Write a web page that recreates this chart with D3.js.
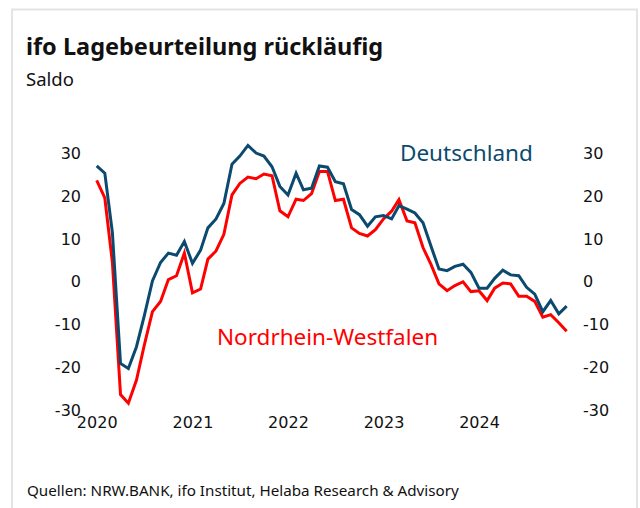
<!DOCTYPE html>
<html>
<head>
<meta charset="utf-8">
<script src="https://d3js.org/d3.v7.min.js"></script>
<style>
    body { margin: 0; background: #fff; }
    .axis text { font-family: 'DejaVu Sans', sans-serif; font-size: 16px; fill: #111; }
    .txt { font-family: 'Noto Sans', sans-serif; fill: #111; }
</style>
</head>
<body>
<script>
// monthly values Jan 2020 .. Dec 2024
var startYear = 2020;
var deutschland = [
    27.1, 25.4, 11.5, -19.1, -20.3, -15.2, -7.9, 0.2, 4.5, 6.7, 6.2, 9.4,
    4.3, 7.4, 12.6, 14.7, 18.3, 27.5, 29.4, 31.9, 30.1, 29.4, 26.9, 22.3,
    20.3, 25.4, 21.5, 21.9, 27.1, 26.8, 23.4, 22.9, 16.9, 15.7, 13.0, 15.2,
    15.5, 14.7, 17.8, 17.0, 16.1, 13.8, 8.4, 3.0, 2.6, 3.6, 4.1, 2.2,
    -1.5, -1.5, 0.8, 2.7, 1.6, 1.4, -1.3, -2.9, -7.0, -4.4, -7.5, -5.7
];
var nrw = [
    23.7, 19.6, 4.5, -26.4, -28.4, -23.0, -14.8, -7.0, -4.6, 0.5, 1.4, 6.7,
    -2.6, -1.7, 5.3, 7.2, 11.1, 20.3, 23.0, 24.5, 24.1, 25.2, 24.8, 16.6,
    15.2, 19.3, 19.0, 20.6, 25.8, 25.8, 19.0, 19.3, 12.6, 11.3, 10.7, 12.2,
    14.7, 16.5, 19.2, 14.2, 13.8, 8.0, 4.1, -0.5, -2.1, -0.9, 0.0, -2.3,
    -2.1, -4.4, -1.5, -0.3, -0.5, -3.4, -3.4, -4.6, -8.3, -7.7, -9.6, -11.6
];
var yearTicks = [2020, 2021, 2022, 2023, 2024];
var valueTicks = [30, 20, 10, 0, -10, -20, -30];

var width = 640, height = 508;
var svg = d3.select("body").append("svg")
    .attr("width", width)
    .attr("height", height);

// light frame around the whole chart
svg.append("rect")
    .attr("x", 12).attr("y", 9.5)
    .attr("width", 625).attr("height", 520)
    .attr("fill", "none")
    .attr("stroke", "#e4e4e4")
    .attr("stroke-width", 2);

svg.append("text").attr("class", "txt")
    .attr("x", 26).attr("y", 55)
    .attr("font-size", 23.5).attr("font-weight", "bold")
    .text("ifo Lagebeurteilung rückläufig");

svg.append("text").attr("class", "txt")
    .attr("x", 26).attr("y", 86)
    .attr("font-size", 18.5)
    .text("Saldo");

svg.append("text").attr("class", "txt")
    .attr("x", 27).attr("y", 496)
    .attr("font-size", 15.2)
    .text("Quellen: NRW.BANK, ifo Institut, Helaba Research & Advisory");

var dates = deutschland.map(function(d, i) { return new Date(startYear, i, 1); });

var x = d3.scaleTime()
    .domain([new Date(2020, 0, 1), new Date(2024, 0, 1)])
    .range([96.7, 479]);

var y = d3.scaleLinear()
    .domain([-30, 30])
    .range([410, 153.5]);

var plain = function(d) { return String(d); };

// left axis
svg.append("g")
    .attr("class", "axis")
    .attr("transform", "translate(81,0)")
    .call(d3.axisLeft(y).tickValues(valueTicks).tickFormat(plain).tickSize(0).tickPadding(0))
    .call(function(g) { g.select(".domain").remove(); });

// right axis
svg.append("g")
    .attr("class", "axis")
    .attr("transform", "translate(583,0)")
    .call(d3.axisRight(y).tickValues(valueTicks).tickFormat(plain).tickSize(0).tickPadding(0))
    .call(function(g) { g.select(".domain").remove(); });

// year labels
svg.append("g")
    .attr("class", "axis")
    .attr("transform", "translate(0,416.5)")
    .call(d3.axisBottom(x)
        .tickValues(yearTicks.map(function(yr) { return new Date(yr, 0, 1); }))
        .tickFormat(d3.timeFormat("%Y"))
        .tickSize(0).tickPadding(0))
    .call(function(g) { g.select(".domain").remove(); });

var line = d3.line()
    .x(function(d, i) { return x(dates[i]); })
    .y(function(d) { return y(d); });

svg.append("path")
    .datum(nrw)
    .attr("fill", "none")
    .attr("stroke", "#ff0000")
    .attr("stroke-width", 3)
    .attr("d", line);

svg.append("path")
    .datum(deutschland)
    .attr("fill", "none")
    .attr("stroke", "#0b4a6e")
    .attr("stroke-width", 3)
    .attr("d", line);

svg.append("text").attr("class", "txt")
    .attr("x", 400).attr("y", 161)
    .attr("font-size", 22.5)
    .style("fill", "#0b4a6e")
    .text("Deutschland");

svg.append("text").attr("class", "txt")
    .attr("x", 217).attr("y", 345)
    .attr("font-size", 22.5)
    .style("fill", "#ff0000")
    .text("Nordrhein-Westfalen");
</script>
</body>
</html>
